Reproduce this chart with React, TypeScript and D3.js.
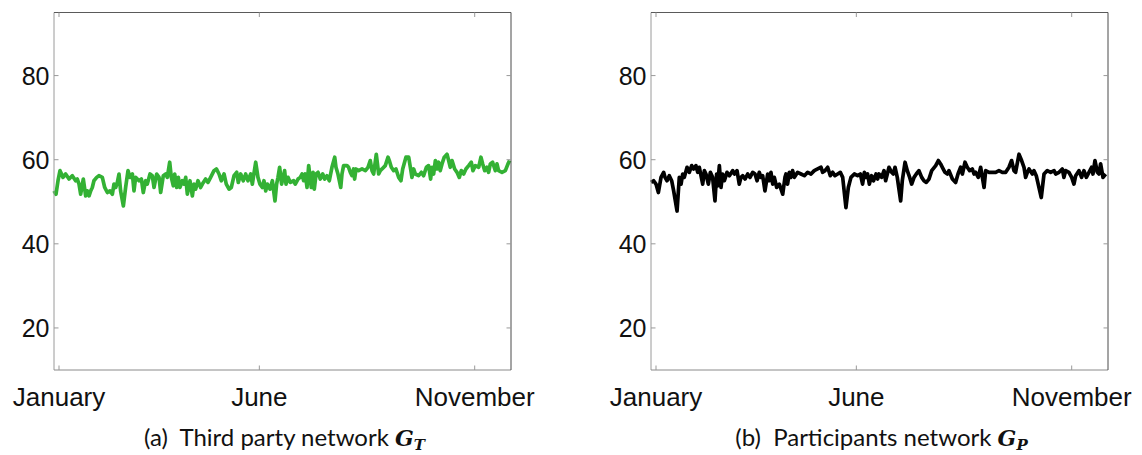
import React from "react";
import * as d3 from "d3";

// ---- Data ----
const MONTH_LABELS = ["January", "June", "November"];
const MONTH_DAYS = [4, 164, 336];
const Y_TICKS = [20, 40, 60, 80];
const Y_DOMAIN = [10, 95];
const X_DOMAIN = [0, 365];

const thirdPartyDays = [
  0.0, 1.6, 3.2, 4.8, 7.2, 9.3, 12.0, 14.6, 17.3, 18.6, 20.0, 21.3, 23.4, 25.3, 26.6, 28.0, 29.3, 30.6, 31.9, 34.1,
  35.9, 38.6, 40.5, 42.6, 44.7, 46.6, 47.9, 49.3, 50.6, 51.9, 53.2, 55.4, 57.2, 59.1, 60.7, 62.6, 63.9, 65.2, 67.9, 69.8,
  71.3, 73.2, 74.5, 76.7, 78.5, 79.9, 82.0, 83.9, 85.2, 87.3, 89.2, 90.5, 92.4, 93.7, 95.3, 96.4, 98.0, 99.3, 100.6, 102.5,
  103.8, 105.2, 106.5, 108.6, 110.5, 111.8, 113.1, 115.0, 117.1, 118.5, 121.1, 123.0, 125.1, 127.8, 129.7, 131.8, 133.6, 135.8, 137.6, 139.8,
  141.6, 143.8, 145.9, 147.2, 149.1, 151.2, 153.1, 154.9, 157.1, 158.4, 161.1, 162.9, 164.5, 166.4, 167.7, 169.1, 170.4, 172.5, 174.4, 176.5,
  177.8, 178.9, 180.2, 181.8, 184.2, 185.3, 186.9, 188.8, 191.4, 192.7, 194.9, 196.7, 198.1, 199.4, 200.7, 202.1, 203.4, 205.5, 206.9, 207.9,
  209.3, 210.9, 212.7, 214.6, 216.2, 218.0, 219.9, 222.0, 224.2, 225.2, 226.8, 229.0, 230.0, 231.3, 234.0, 235.3, 236.7, 238.0, 239.3, 240.1,
  241.2, 243.3, 246.0, 248.7, 250.8, 252.6, 254.0, 255.3, 257.4, 259.3, 260.6, 262.0, 264.6, 266.8, 267.8, 269.4, 271.3, 273.1, 275.3, 277.1,
  278.5, 281.1, 283.3, 284.6, 285.9, 287.3, 288.6, 291.2, 293.4, 295.2, 297.4, 299.2, 300.8, 301.9, 303.2, 304.6, 305.9, 307.2, 308.5, 309.9,
  311.7, 313.9, 315.2, 316.5, 317.9, 320.0, 321.9, 323.7, 325.3, 327.2, 329.0, 331.2, 333.3, 334.6, 336.5, 339.2, 341.0, 342.4, 344.0, 345.8,
  347.1, 348.5, 350.3, 352.5, 353.8, 355.1, 357.8, 360.5, 362.6, 363.9,
];
const thirdPartyValues = [
  52.6, 51.8, 55.0, 57.4, 55.8, 56.6, 55.4, 56.2, 55.0, 55.4, 54.2, 51.8, 55.4, 51.4, 52.6, 51.4, 52.6, 53.4, 55.0, 55.8,
  56.2, 55.8, 53.4, 52.2, 52.6, 51.8, 54.2, 53.4, 54.6, 56.6, 52.6, 49.0, 53.4, 57.4, 55.8, 56.6, 52.6, 55.8, 55.0, 55.4,
  52.2, 55.0, 54.2, 56.6, 56.2, 53.4, 56.6, 55.8, 52.2, 56.2, 56.6, 55.8, 59.4, 55.8, 53.8, 56.6, 53.4, 55.8, 53.4, 55.0,
  54.2, 55.8, 51.8, 55.0, 51.4, 54.2, 53.0, 55.0, 53.4, 54.2, 55.4, 54.6, 55.8, 57.4, 57.8, 56.6, 55.0, 56.6, 54.2, 53.0,
  53.4, 56.2, 57.0, 54.6, 56.6, 55.0, 56.6, 55.0, 56.6, 54.2, 59.4, 55.8, 54.2, 53.4, 55.0, 52.6, 54.2, 53.0, 55.0, 50.2,
  54.2, 55.8, 58.2, 54.2, 57.4, 54.2, 55.8, 54.6, 55.0, 54.2, 55.4, 55.8, 56.6, 55.0, 56.6, 53.4, 58.6, 53.4, 57.0, 53.0,
  56.6, 57.0, 55.4, 56.6, 55.4, 56.2, 55.0, 58.2, 60.6, 58.2, 56.6, 53.4, 56.6, 58.6, 58.6, 58.2, 57.0, 56.2, 57.8, 55.4,
  57.8, 57.4, 57.8, 57.4, 58.2, 59.8, 57.4, 56.6, 61.3, 56.6, 57.4, 57.8, 58.6, 60.6, 59.8, 58.2, 57.4, 57.8, 55.8, 55.0,
  57.8, 60.6, 60.6, 58.2, 55.8, 57.8, 56.6, 56.2, 57.0, 56.2, 58.2, 58.6, 55.4, 58.2, 56.6, 59.8, 57.8, 59.4, 57.4, 59.0,
  60.6, 61.3, 59.8, 58.2, 59.8, 57.8, 57.0, 55.8, 57.4, 56.6, 57.8, 58.6, 59.4, 57.4, 58.6, 58.2, 60.6, 59.0, 57.4, 58.2,
  57.0, 59.0, 59.4, 57.4, 59.0, 57.4, 57.0, 57.4, 59.0, 59.8,
];

const participantsDays = [
  0.0, 2.1, 4.0, 5.9, 8.0, 10.1, 11.2, 12.8, 14.6, 16.5, 18.1, 20.8, 22.6, 24.0, 25.3, 26.6, 28.8, 30.6, 32.5, 34.1,
  35.9, 37.3, 38.6, 41.3, 42.6, 43.9, 45.8, 47.4, 49.2, 51.1, 52.4, 53.2, 54.6, 55.9, 57.2, 58.6, 60.7, 62.6, 65.2, 66.6,
  68.7, 70.5, 71.9, 73.2, 75.1, 77.2, 79.1, 81.2, 83.1, 84.7, 86.5, 87.8, 89.2, 91.0, 93.2, 94.5, 95.8, 97.2, 98.5, 100.4,
  102.5, 105.2, 107.0, 107.8, 109.1, 110.5, 111.8, 113.1, 114.5, 117.1, 119.8, 122.5, 125.1, 127.8, 130.4, 133.1, 135.8, 137.1, 139.0, 141.1,
  143.2, 145.1, 146.9, 149.1, 151.2, 153.1, 155.7, 157.6, 159.7, 162.4, 165.0, 167.2, 169.0, 170.4, 171.7, 173.0, 174.4, 176.2, 177.8, 179.7,
  181.0, 182.1, 184.2, 186.1, 187.4, 190.1, 192.2, 193.5, 194.9, 196.7, 199.4, 200.7, 202.9, 204.7, 206.6, 208.2, 210.1, 211.9, 214.0, 216.2,
  218.0, 219.9, 222.0, 224.2, 227.4, 229.5, 231.3, 232.7, 234.8, 236.7, 238.0, 240.7, 243.3, 245.2, 247.3, 248.7, 250.8, 252.6, 254.5, 256.6,
  258.0, 259.3, 261.4, 263.3, 266.0, 267.3, 270.0, 272.6, 275.3, 277.9, 280.6, 283.3, 285.9, 288.0, 289.9, 291.2, 293.9, 296.0, 297.9, 299.2,
  300.6, 301.9, 304.6, 305.9, 307.7, 311.7, 313.9, 316.5, 319.2, 321.9, 323.2, 325.9, 328.5, 329.8, 331.2, 333.8, 336.0, 337.8, 339.2, 341.8,
  343.9, 345.8, 347.7, 349.8, 351.9, 353.0, 354.6, 356.5, 357.8, 359.1, 361.0, 363.1,
];
const participantsValues = [
  54.6, 55.0, 54.2, 52.2, 55.8, 57.0, 55.8, 55.0, 56.2, 55.0, 52.6, 47.8, 55.8, 54.2, 56.6, 55.8, 58.2, 57.0, 58.6, 57.8,
  58.6, 57.0, 58.2, 54.2, 57.4, 56.6, 54.2, 57.0, 55.8, 50.2, 56.6, 53.8, 58.6, 53.4, 56.6, 55.0, 57.0, 56.2, 57.4, 56.6,
  57.4, 54.2, 55.8, 56.2, 55.4, 56.6, 55.8, 57.0, 56.6, 55.0, 57.0, 55.8, 56.2, 52.6, 56.6, 55.0, 57.0, 54.2, 55.8, 53.4,
  54.2, 51.8, 55.8, 56.6, 54.2, 57.0, 55.8, 57.4, 55.8, 57.0, 56.6, 56.2, 57.0, 56.6, 57.4, 57.8, 58.2, 57.0, 57.4, 58.2,
  56.2, 57.0, 56.2, 56.6, 57.0, 55.8, 48.6, 53.4, 55.8, 56.6, 56.2, 56.6, 54.2, 57.0, 55.8, 56.6, 54.2, 56.2, 55.0, 56.6,
  55.4, 56.6, 55.8, 57.4, 55.0, 58.2, 57.0, 56.6, 58.2, 55.8, 50.2, 55.0, 59.4, 57.4, 55.8, 54.2, 55.8, 56.6, 57.4, 55.8,
  55.0, 54.6, 55.4, 57.4, 58.6, 59.8, 59.0, 58.2, 57.0, 56.6, 57.4, 55.4, 54.6, 56.6, 58.2, 56.6, 59.4, 58.2, 57.4, 57.8,
  56.6, 57.0, 55.8, 58.2, 53.4, 57.4, 57.0, 57.0, 57.0, 57.4, 57.0, 57.0, 58.2, 59.8, 57.4, 57.0, 61.3, 59.8, 58.2, 55.8,
  57.0, 57.8, 56.6, 57.4, 56.2, 51.0, 56.6, 57.4, 57.0, 57.4, 56.6, 57.0, 57.8, 55.8, 57.4, 57.0, 55.8, 54.2, 56.2, 57.4,
  55.8, 57.4, 55.8, 57.0, 58.2, 56.6, 59.8, 57.0, 56.6, 59.0, 55.8, 56.6,
];

// ---- Layout ----
const W = 1142;
const H = 455;
const TOP = 12.5;
const BOTTOM = 370;
const PANEL_W = 457;

type PanelProps = {
  left: number;
  days: number[];
  values: number[];
  color: string;
  label: string;
  sym: string;
  sub: string;
};

function Panel({ left, days, values, color, label, sym, sub }: PanelProps) {
  const right = left + PANEL_W;
  const x = d3.scaleLinear().domain(X_DOMAIN).range([left, right]);
  const y = d3.scaleLinear().domain(Y_DOMAIN).range([BOTTOM, TOP]);
  const pts: [number, number][] = days.map((d, i) => [d, values[i]]);
  const line = d3
    .line<[number, number]>()
    .x((p) => x(p[0]))
    .y((p) => y(p[1]));
  const axisFont = "'Liberation Sans', Arial, sans-serif";
  const tick = 4.5;
  const center = (left + right) / 2;
  return (
    <g>
      <path d={line(pts) || ""} fill="none" stroke={color} strokeWidth={3.7} strokeLinejoin="round" />
      {/* frame */}
      <line x1={left} x2={left} y1={TOP} y2={BOTTOM} stroke="#9a9a9a" strokeWidth={1} />
      <line x1={left} x2={right} y1={BOTTOM} y2={BOTTOM} stroke="#8a8a8a" strokeWidth={1} />
      <line x1={left} x2={right} y1={TOP} y2={TOP} stroke="#5a5a5a" strokeWidth={1} />
      <line x1={right} x2={right} y1={TOP} y2={BOTTOM} stroke="#4a4a4a" strokeWidth={1} />
      {Y_TICKS.map((t) => (
        <g key={"y" + t}>
          <line x1={left} x2={left + tick} y1={y(t)} y2={y(t)} stroke="#999" />
          <line x1={right - tick} x2={right} y1={y(t)} y2={y(t)} stroke="#999" />
          <text
            x={left - 4.5}
            y={y(t)}
            dy="0.36em"
            textAnchor="end"
            fontFamily={axisFont}
            fontSize={25}
            fill="#111"
          >
            {t}
          </text>
        </g>
      ))}
      {MONTH_DAYS.map((d, i) => (
        <g key={"x" + d}>
          <line x1={x(d)} x2={x(d)} y1={BOTTOM} y2={BOTTOM - tick} stroke="#999" />
          <line x1={x(d)} x2={x(d)} y1={TOP} y2={TOP + tick} stroke="#999" />
          <text x={x(d)} y={406} textAnchor="middle" fontFamily={axisFont} fontSize={26} fill="#111">
            {MONTH_LABELS[i]}
          </text>
        </g>
      ))}
      <text
        x={center + 2}
        y={446}
        textAnchor="middle"
        fontFamily="Lato, 'Open Sans', sans-serif"
        fontSize={24}
        fill="#111"
        style={{ whiteSpace: "pre" }}
      >
        {label}
        <tspan fontFamily="'DejaVu Serif', serif" fontWeight="bold" fontStyle="italic" fontSize={22}>
          {sym}
        </tspan>
        <tspan fontFamily="'DejaVu Serif', serif" fontWeight="bold" fontStyle="italic" fontSize={15} dy={4}>
          {sub}
        </tspan>
      </text>
    </g>
  );
}

export default function App() {
  return (
    <svg
      width={W}
      height={H}
      viewBox={`0 0 ${W} ${H}`}
      style={{ position: "absolute", left: 0, top: 0, background: "#fff" }}
    >
      <rect x={0} y={0} width={W} height={H} fill="#fff" />
      <Panel
        left={54}
        days={thirdPartyDays}
        values={thirdPartyValues}
        color="#33b134"
        label="(a)  Third party network "
        sym="G"
        sub="T"
      />
      <Panel
        left={651}
        days={participantsDays}
        values={participantsValues}
        color="#000000"
        label="(b)  Participants network "
        sym="G"
        sub="P"
      />
    </svg>
  );
}
